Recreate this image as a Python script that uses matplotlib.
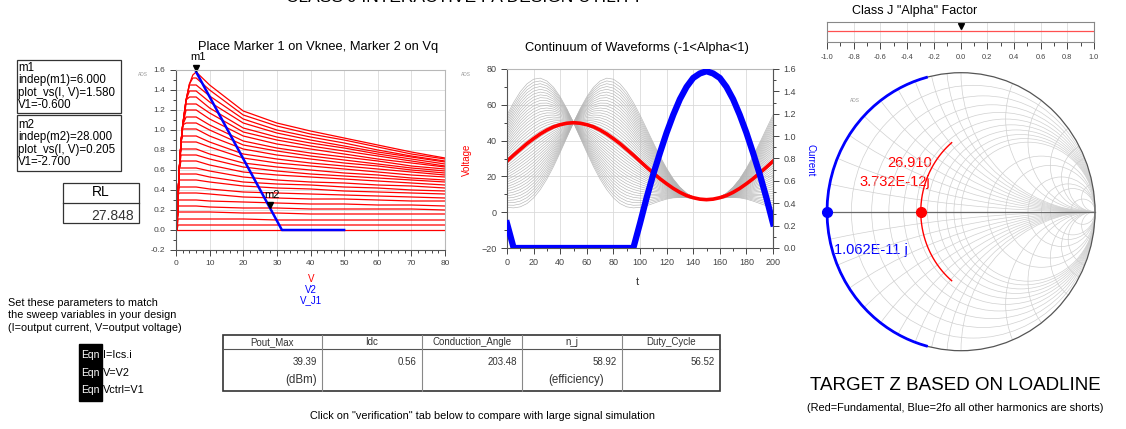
import numpy as np
import matplotlib.pyplot as plt
from matplotlib.patches import Rectangle, Circle
from matplotlib.ticker import MultipleLocator
import matplotlib.transforms as mtrans

plt.rcParams['font.family'] = ['Liberation Sans', 'DejaVu Sans']

W, H = 1126, 429

# ---- данные: семейство ВАХ (x = Vds, y = Ids) ----
iv_rise_x = [0, 0.3, 0.6, 1, 1.5, 2, 3, 4, 5]
iv_rise_env = [0, 0, 0.35, 0.62, 0.88, 1.05, 1.30, 1.46, 1.55]
iv_x = [6, 10, 20, 30, 40, 50, 60, 70, 80]
iv_curves = [
    [1.58, 1.45, 1.19, 1.07, 0.99, 0.92, 0.85, 0.78, 0.72],
    [1.52, 1.40, 1.15, 1.04, 0.96, 0.90, 0.83, 0.76, 0.71],
    [1.45, 1.34, 1.11, 1.00, 0.93, 0.87, 0.80, 0.74, 0.69],
    [1.39, 1.28, 1.07, 0.97, 0.90, 0.84, 0.78, 0.73, 0.68],
    [1.33, 1.22, 1.02, 0.93, 0.87, 0.82, 0.76, 0.71, 0.66],
    [1.26, 1.17, 0.98, 0.90, 0.84, 0.79, 0.74, 0.69, 0.64],
    [1.20, 1.11, 0.94, 0.86, 0.81, 0.76, 0.71, 0.67, 0.63],
    [1.13, 1.05, 0.89, 0.82, 0.77, 0.73, 0.69, 0.64, 0.61],
    [1.07, 1.00, 0.85, 0.79, 0.74, 0.70, 0.66, 0.62, 0.59],
    [1.01, 0.94, 0.81, 0.75, 0.71, 0.67, 0.64, 0.60, 0.57],
    [0.94, 0.88, 0.76, 0.71, 0.67, 0.64, 0.61, 0.58, 0.55],
    [0.88, 0.83, 0.72, 0.67, 0.64, 0.61, 0.58, 0.55, 0.53],
    [0.81, 0.76, 0.67, 0.63, 0.60, 0.57, 0.55, 0.52, 0.50],
    [0.75, 0.71, 0.63, 0.59, 0.56, 0.54, 0.52, 0.50, 0.48],
    [0.69, 0.65, 0.58, 0.55, 0.53, 0.51, 0.49, 0.47, 0.45],
    [0.62, 0.59, 0.53, 0.50, 0.48, 0.47, 0.45, 0.44, 0.42],
    [0.56, 0.53, 0.48, 0.46, 0.45, 0.43, 0.42, 0.40, 0.39],
    [0.50, 0.48, 0.44, 0.42, 0.41, 0.39, 0.38, 0.37, 0.36],
    [0.43, 0.41, 0.38, 0.37, 0.36, 0.35, 0.34, 0.33, 0.32],
    [0.37, 0.36, 0.33, 0.32, 0.31, 0.31, 0.30, 0.29, 0.29],
    [0.30, 0.29, 0.28, 0.27, 0.26, 0.26, 0.25, 0.25, 0.24],
    [0.24, 0.23, 0.22, 0.22, 0.21, 0.21, 0.21, 0.21, 0.20],
    [0.18, 0.18, 0.17, 0.17, 0.16, 0.16, 0.16, 0.16, 0.16],
    [0.11, 0.11, 0.11, 0.10, 0.10, 0.10, 0.10, 0.10, 0.10],
    [0.05, 0.05, 0.05, 0.05, 0.05, 0.05, 0.05, 0.05, 0.05],
    [0.00, 0.00, 0.00, 0.00, 0.00, 0.00, 0.00, 0.00, 0.00],
]
load_x = [6, 31.5, 50]
load_i = [1.58, 0.0, 0.0]
m1 = (6.0, 1.580)
m2 = (28.0, 0.205)

# ---- данные: формы волн ----
t = list(range(0, 201, 5))
v_alpha_m1 = [54.3, 61.3, 67.3, 71.7, 74.3, 74.9, 73.3, 69.8, 64.5, 57.8, 50.0,
              41.7, 33.4, 25.5, 18.5, 12.6, 8.0, 4.8, 3.0, 2.4, 2.7,
              3.6, 4.9, 6.2, 7.3, 8.0, 8.2, 8.1, 7.7, 7.2, 7.0,
              7.3, 8.4, 10.6, 14.0, 18.6, 24.5, 31.3, 38.8, 46.6, 54.3]
v_alpha_p1 = [2.7, 2.4, 3.0, 4.8, 8.0, 12.6, 18.5, 25.5, 33.4, 41.7, 50.0,
              57.8, 64.5, 69.8, 73.3, 74.9, 74.3, 71.7, 67.3, 61.3, 54.3,
              46.6, 38.8, 31.3, 24.5, 18.6, 14.0, 10.6, 8.4, 7.3, 7.0,
              7.2, 7.7, 8.1, 8.2, 8.0, 7.3, 6.2, 4.9, 3.6, 2.7]
alphas = np.linspace(-1, 1, 41)
v_sel = [28.5, 31.9, 35.1, 38.3, 41.1, 43.7, 45.9, 47.7, 48.9, 49.7, 50.0,
         49.7, 48.9, 47.7, 45.9, 43.7, 41.1, 38.3, 35.1, 31.9, 28.5,
         25.1, 21.9, 18.7, 15.9, 13.3, 11.1, 9.3, 8.1, 7.3, 7.0,
         7.3, 8.1, 9.3, 11.1, 13.3, 15.9, 18.7, 21.9, 25.1, 28.5]
i_sel = [0.22, 0, 0, 0, 0, 0, 0, 0, 0, 0, 0, 0, 0, 0, 0, 0, 0, 0, 0, 0,
         0.22, 0.45, 0.66, 0.85, 1.03, 1.19, 1.33, 1.44, 1.52, 1.56, 1.58,
         1.56, 1.52, 1.44, 1.33, 1.19, 1.03, 0.85, 0.66, 0.45, 0.22]
alpha_now = 0.0

# ---- данные: диаграмма Смита ----
Z0 = 50.0
R_fund = 26.910
X_fund_max = 35.7
X_2fo_max = 38.4
r_grid = [0.1, 0.2, 0.3, 0.4, 0.5, 0.6, 0.7, 0.8, 0.9, 1.0, 1.5, 2.0, 3.0, 4.0, 5.0, 10.0]
x_grid = [0.1, 0.2, 0.3, 0.4, 0.5, 0.6, 0.7, 0.8, 0.9, 1.0, 1.5, 2.0, 3.0, 4.0, 5.0, 10.0]

# ---- таблица ----
tbl_headers = ['Pout_Max', 'Idc', 'Conduction_Angle', 'n_j', 'Duty_Cycle']
tbl_values = ['39.39', '0.56', '203.48', '58.92', '56.52']
tbl_units = ['(dBm)', '', '', '(efficiency)', '']


def box(x0, y0, x1, y1):
    return [x0 / W, 1 - y1 / H, (x1 - x0) / W, (y1 - y0) / H]


def ads_style(ax, size=6):
    ax.grid(True, which='major', color='#dadada', lw=0.6)
    ax.set_axisbelow(True)
    for s in ax.spines.values():
        s.set_color('#b8b8b8')
        s.set_linewidth(0.8)
    ax.spines['left'].set_color('#555555')
    ax.spines['bottom'].set_color('#555555')
    ax.tick_params(which='both', direction='out', colors='#444444', labelsize=size, width=0.7)
    ax.tick_params(which='major', length=4)
    ax.tick_params(which='minor', length=2.5)


fig = plt.figure(figsize=(W / 100, H / 100), dpi=100)

# фон-слой для текста в пикселях
ov = fig.add_axes([0, 0, 1, 1])
ov.set_xlim(0, W)
ov.set_ylim(H, 0)
ov.axis('off')
ov.set_zorder(-1)

# ---------- график 1: ВАХ ----------
ax1 = fig.add_axes(box(176, 70, 445, 250))
for row in iv_curves:
    ys = np.concatenate([np.minimum(iv_rise_env, row[0]), row])
    ax1.plot(iv_rise_x + iv_x, ys, color='red', lw=0.9)
ax1.plot(load_x, load_i, color='blue', lw=1.8)
off = mtrans.offset_copy(ax1.transData, fig=fig, y=3, units='points')
for (mx, my), name in [(m1, 'm1'), (m2, 'm2')]:
    ax1.plot(mx, my, marker='v', color='black', ms=5, transform=off, clip_on=False)
    ax1.annotate(name, (mx, my), xytext=(1, 7), textcoords='offset points',
                 ha='center', va='bottom', fontsize=8, annotation_clip=False)
ax1.set_xlim(0, 80)
ax1.set_ylim(-0.2, 1.6)
ax1.xaxis.set_major_locator(MultipleLocator(10))
ax1.xaxis.set_minor_locator(MultipleLocator(2))
ax1.yaxis.set_major_locator(MultipleLocator(0.2))
ax1.yaxis.set_minor_locator(MultipleLocator(0.1))
ax1.yaxis.set_major_formatter(lambda v, p: f'{v:.1f}')
ads_style(ax1, 6)

# ---------- график 2: формы волн ----------
ax2 = fig.add_axes(box(507, 69, 773, 248))
for a in alphas:
    va = [(1 - a) / 2 * p + (1 + a) / 2 * q for p, q in zip(v_alpha_m1, v_alpha_p1)]
    ax2.plot(t, va, color='#b4b4b4', lw=0.45)
ax2.plot(t, v_sel, color='red', lw=2.6)
ax2.set_xlim(0, 200)
ax2.set_ylim(-20, 80)
ax2.xaxis.set_major_locator(MultipleLocator(20))
ax2.xaxis.set_minor_locator(MultipleLocator(10))
ax2.yaxis.set_major_locator(MultipleLocator(20))
ax2.yaxis.set_minor_locator(MultipleLocator(10))
ads_style(ax2, 6.5)
ax2r = ax2.twinx()
ax2r.plot(t, i_sel, color='blue', lw=4.5)
ax2r.set_ylim(0, 1.6)
ax2r.yaxis.set_major_locator(MultipleLocator(0.2))
ax2r.yaxis.set_minor_locator(MultipleLocator(0.1))
ax2r.yaxis.set_major_formatter(lambda v, p: f'{v:.1f}')
for s in ax2r.spines.values():
    s.set_visible(False)
ax2r.spines['right'].set_visible(True)
ax2r.spines['right'].set_color('#555555')
ax2r.tick_params(which='both', direction='out', colors='#444444', labelsize=6.5, width=0.7)
ax2r.tick_params(which='major', length=4)
ax2r.tick_params(which='minor', length=2.5)

# ---------- ползунок alpha ----------
axs = fig.add_axes(box(827, 22, 1094, 42))
axs.set_xlim(-1, 1)
axs.set_ylim(0, 1)
axs.axhline(0.55, color='#ff5050', lw=0.9)
axs.plot(alpha_now, 0.78, marker='v', color='black', ms=4.5)
axs.xaxis.set_major_locator(MultipleLocator(0.2))
axs.xaxis.set_minor_locator(MultipleLocator(0.1))
axs.xaxis.set_major_formatter(lambda v, p: f'{v:.1f}')
axs.set_yticks([])
axs.grid(True, axis='x', color='#dcdcdc', lw=0.6)
for s in axs.spines.values():
    s.set_color('#888888')
    s.set_linewidth(0.8)
axs.tick_params(which='both', direction='out', colors='#444444', labelsize=5.3, width=0.7)
axs.tick_params(which='major', length=5)
axs.tick_params(which='minor', length=3)

# ---------- диаграмма Смита ----------
cx, cy, rx, ry = 961, 211.7, 134, 139
axz = fig.add_axes(box(cx - 1.05 * rx, cy - 1.05 * ry, cx + 1.05 * rx, cy + 1.05 * ry))
axz.set_xlim(-1.05, 1.05)
axz.set_ylim(-1.05, 1.05)
axz.axis('off')
unit = Circle((0, 0), 1, transform=axz.transData)
for r in r_grid:
    axz.add_patch(Circle((r / (1 + r), 0), 1 / (1 + r), fill=False, ec='#d0d0d0', lw=0.5))
for x in x_grid:
    for sgn in (1, -1):
        c = Circle((1, sgn / x), 1 / x, fill=False, ec='#d0d0d0', lw=0.5)
        axz.add_patch(c)
        c.set_clip_path(unit)
axz.add_patch(Circle((0, 0), 1, fill=False, ec='#555555', lw=0.9))
axz.plot([-1, 1], [0, 0], color='#6a6a6a', lw=0.9)

z_f = (R_fund + 1j * alphas * X_fund_max) / Z0
z_2 = (1j * alphas * X_2fo_max) / Z0
g_f = (z_f - 1) / (z_f + 1)
g_2 = (z_2 - 1) / (z_2 + 1)
axz.plot(g_f.real, g_f.imag, color='red', lw=1.0)
axz.plot(g_2.real, g_2.imag, color='blue', lw=2.0)
g0 = (R_fund / Z0 - 1) / (R_fund / Z0 + 1)
axz.plot(g0, 0, 'o', color='red', ms=7)
axz.plot(-1, 0, 'o', color='blue', ms=7, clip_on=False)

# ---------- тексты ----------
ov.text(465, 2.5, 'CLASS J INTERACTIVE PA DESIGN UTILITY', ha='center', va='baseline', fontsize=12.5, clip_on=False)
ov.text(318, 47, 'Place Marker 1 on Vknee, Marker 2 on Vq', ha='center', va='center', fontsize=9.3)
ov.text(637, 48, 'Continuum of Waveforms (-1<Alpha<1)', ha='center', va='center', fontsize=9.3)
ov.text(915, 11, 'Class J "Alpha" Factor', ha='center', va='center', fontsize=9)
ov.text(143, 74, 'ADS', fontsize=3.5, color='#999999', ha='center', va='center')
ov.text(466, 75, 'ADS', fontsize=3.5, color='#999999', ha='center', va='center')
ov.text(855, 100, 'ADS', fontsize=3.5, color='#999999', ha='center', va='center')
ov.text(311, 279, 'V', color='red', fontsize=7, ha='center', va='center')
ov.text(311, 290, 'V2', color='blue', fontsize=7, ha='center', va='center')
ov.text(311, 300, 'V_J1', color='blue', fontsize=7, ha='center', va='center')
ov.text(637, 282, 't', fontsize=8, ha='center', va='center', color='#333333')
ov.text(467, 160, 'Voltage', color='red', fontsize=7, rotation=90, ha='center', va='center')
ov.text(810, 160, 'Current', color='blue', fontsize=7, rotation=270, ha='center', va='center')

ov.text(887, 163, '26.910', color='red', fontsize=10.5, ha='left', va='center')
ov.text(859, 182, '3.732E-12j', color='red', fontsize=10.5, ha='left', va='center')
ov.text(834, 250, '1.062E-11 j', color='blue', fontsize=10.5, ha='left', va='center')

# маркеры слева
ov.add_patch(Rectangle((16.7, 60), 104, 53, fill=False, ec='#333333', lw=0.9))
ov.add_patch(Rectangle((16.7, 115), 104, 56, fill=False, ec='#333333', lw=0.9))
for yy, s in zip([68, 80, 93, 105], ['m1', 'indep(m1)=6.000', 'plot_vs(I, V)=1.580', 'V1=-0.600']):
    ov.text(18, yy, s, fontsize=8.3, va='center')
for yy, s in zip([125, 137, 150, 162], ['m2', 'indep(m2)=28.000', 'plot_vs(I, V)=0.205', 'V1=-2.700']):
    ov.text(18, yy, s, fontsize=8.3, va='center')
ov.add_patch(Rectangle((62.7, 182.7), 76.6, 40.3, fill=False, ec='#333333', lw=0.9))
ov.plot([62.7, 139.3], [202.7, 202.7], color='#333333', lw=0.9)
ov.text(101, 192, 'RL', fontsize=10, ha='center', va='center')
ov.text(134, 216, '27.848', fontsize=10, ha='right', va='center', color='#333333')

for yy, s in zip([303, 315, 328], ['Set these parameters to match', 'the sweep variables in your design',
                                  '(I=output current, V=output voltage)']):
    ov.text(8, yy, s, fontsize=7.8, va='center')
ov.add_patch(Rectangle((79, 344), 23, 57, color='black'))
for yy, s in zip([355, 373, 390], ['I=Ics.i', 'V=V2', 'Vctrl=V1']):
    ov.text(81, yy, 'Eqn', color='white', fontsize=7.5, va='center')
    ov.text(103, yy, s, fontsize=7.8, va='center')

# таблица
edges = [222.7, 321.7, 421.7, 521.7, 621.7, 720]
ov.add_patch(Rectangle((222.7, 335), 720 - 222.7, 391 - 335, fill=False, ec='#333333', lw=1.2))
ov.plot([222.7, 720], [349, 349], color='#555555', lw=0.8)
for e in edges[1:-1]:
    ov.plot([e, e], [335, 391], color='#888888', lw=0.8)
for i in range(5):
    ov.text((edges[i] + edges[i + 1]) / 2, 342, tbl_headers[i], fontsize=7, ha='center', va='center', color='#333333')
    ov.text(edges[i + 1] - 5, 362, tbl_values[i], fontsize=7, ha='right', va='center', color='#333333')
    if tbl_units[i]:
        ov.text(edges[i + 1] - 5 - (13 if i == 3 else 0), 380, tbl_units[i], fontsize=8.3, ha='right', va='center', color='#333333')
ov.text(483, 416, 'Click on "verification" tab below to compare with large signal simulation',
        fontsize=7.8, ha='center', va='center')

ov.text(955, 385, 'TARGET Z BASED ON LOADLINE', fontsize=13.5, ha='center', va='center')
ov.text(955, 408, '(Red=Fundamental, Blue=2fo all other harmonics are shorts)', fontsize=7.9, ha='center', va='center')

fig.savefig('out.png', dpi=100)
